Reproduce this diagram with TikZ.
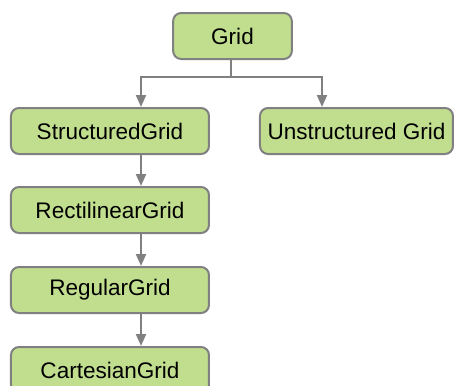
\documentclass[tikz,border=0pt]{standalone}
\usepackage{fontspec}
\setmainfont{Liberation Sans}
\usetikzlibrary{arrows.meta,calc}
\definecolor{boxfill}{RGB}{193,222,143}
\definecolor{edgegray}{RGB}{128,128,128}
\begin{document}
\begin{tikzpicture}[x=0.75pt,y=-0.75pt,
  gbox/.style={draw=edgegray,line width=1.5pt,fill=boxfill,rounded corners=6pt,
    minimum height=34.5pt,inner sep=0pt,font=\fontsize{16.9}{20}\selectfont},
  conn/.style={draw=edgegray,line width=1.5pt},
  arr/.style={conn,-{Triangle[width=7.5pt,length=9pt]}}]
\useasboundingbox (0,0) rectangle (455,386);
\node[gbox,minimum width=89pt] (grid) at (232.5,36) {Grid};
\node[gbox,minimum width=148.5pt] (sg) at (110,131) {StructuredGrid};
\node[gbox,minimum width=144.75pt] (ug) at (356.5,131) {Unstructured Grid};
\node[gbox,minimum width=148.5pt] (rg) at (110,210) {RectilinearGrid};
\node[gbox,minimum width=148.5pt] (reg) at (110,290) {RegularGrid};
\node[gbox,minimum width=148.5pt] (cg) at (110,370) {CartesianGrid};
\coordinate (junc) at ($(grid.south)+(-1.5,17)$);
\draw[conn] ($(grid.south)+(-1.5,0)$) -- (junc);
\draw[arr] (junc) -| ($(sg.north)+(31,0)$);
\draw[arr] (junc) -| ($(ug.north)+(-34.5,0)$);
\draw[arr] ($(sg.south)+(31,0)$) -- ($(rg.north)+(31,0)$);
\draw[arr] ($(rg.south)+(31,0)$) -- ($(reg.north)+(31,0)$);
\draw[arr] ($(reg.south)+(31,0)$) -- ($(cg.north)+(31,0)$);
\end{tikzpicture}
\end{document}
